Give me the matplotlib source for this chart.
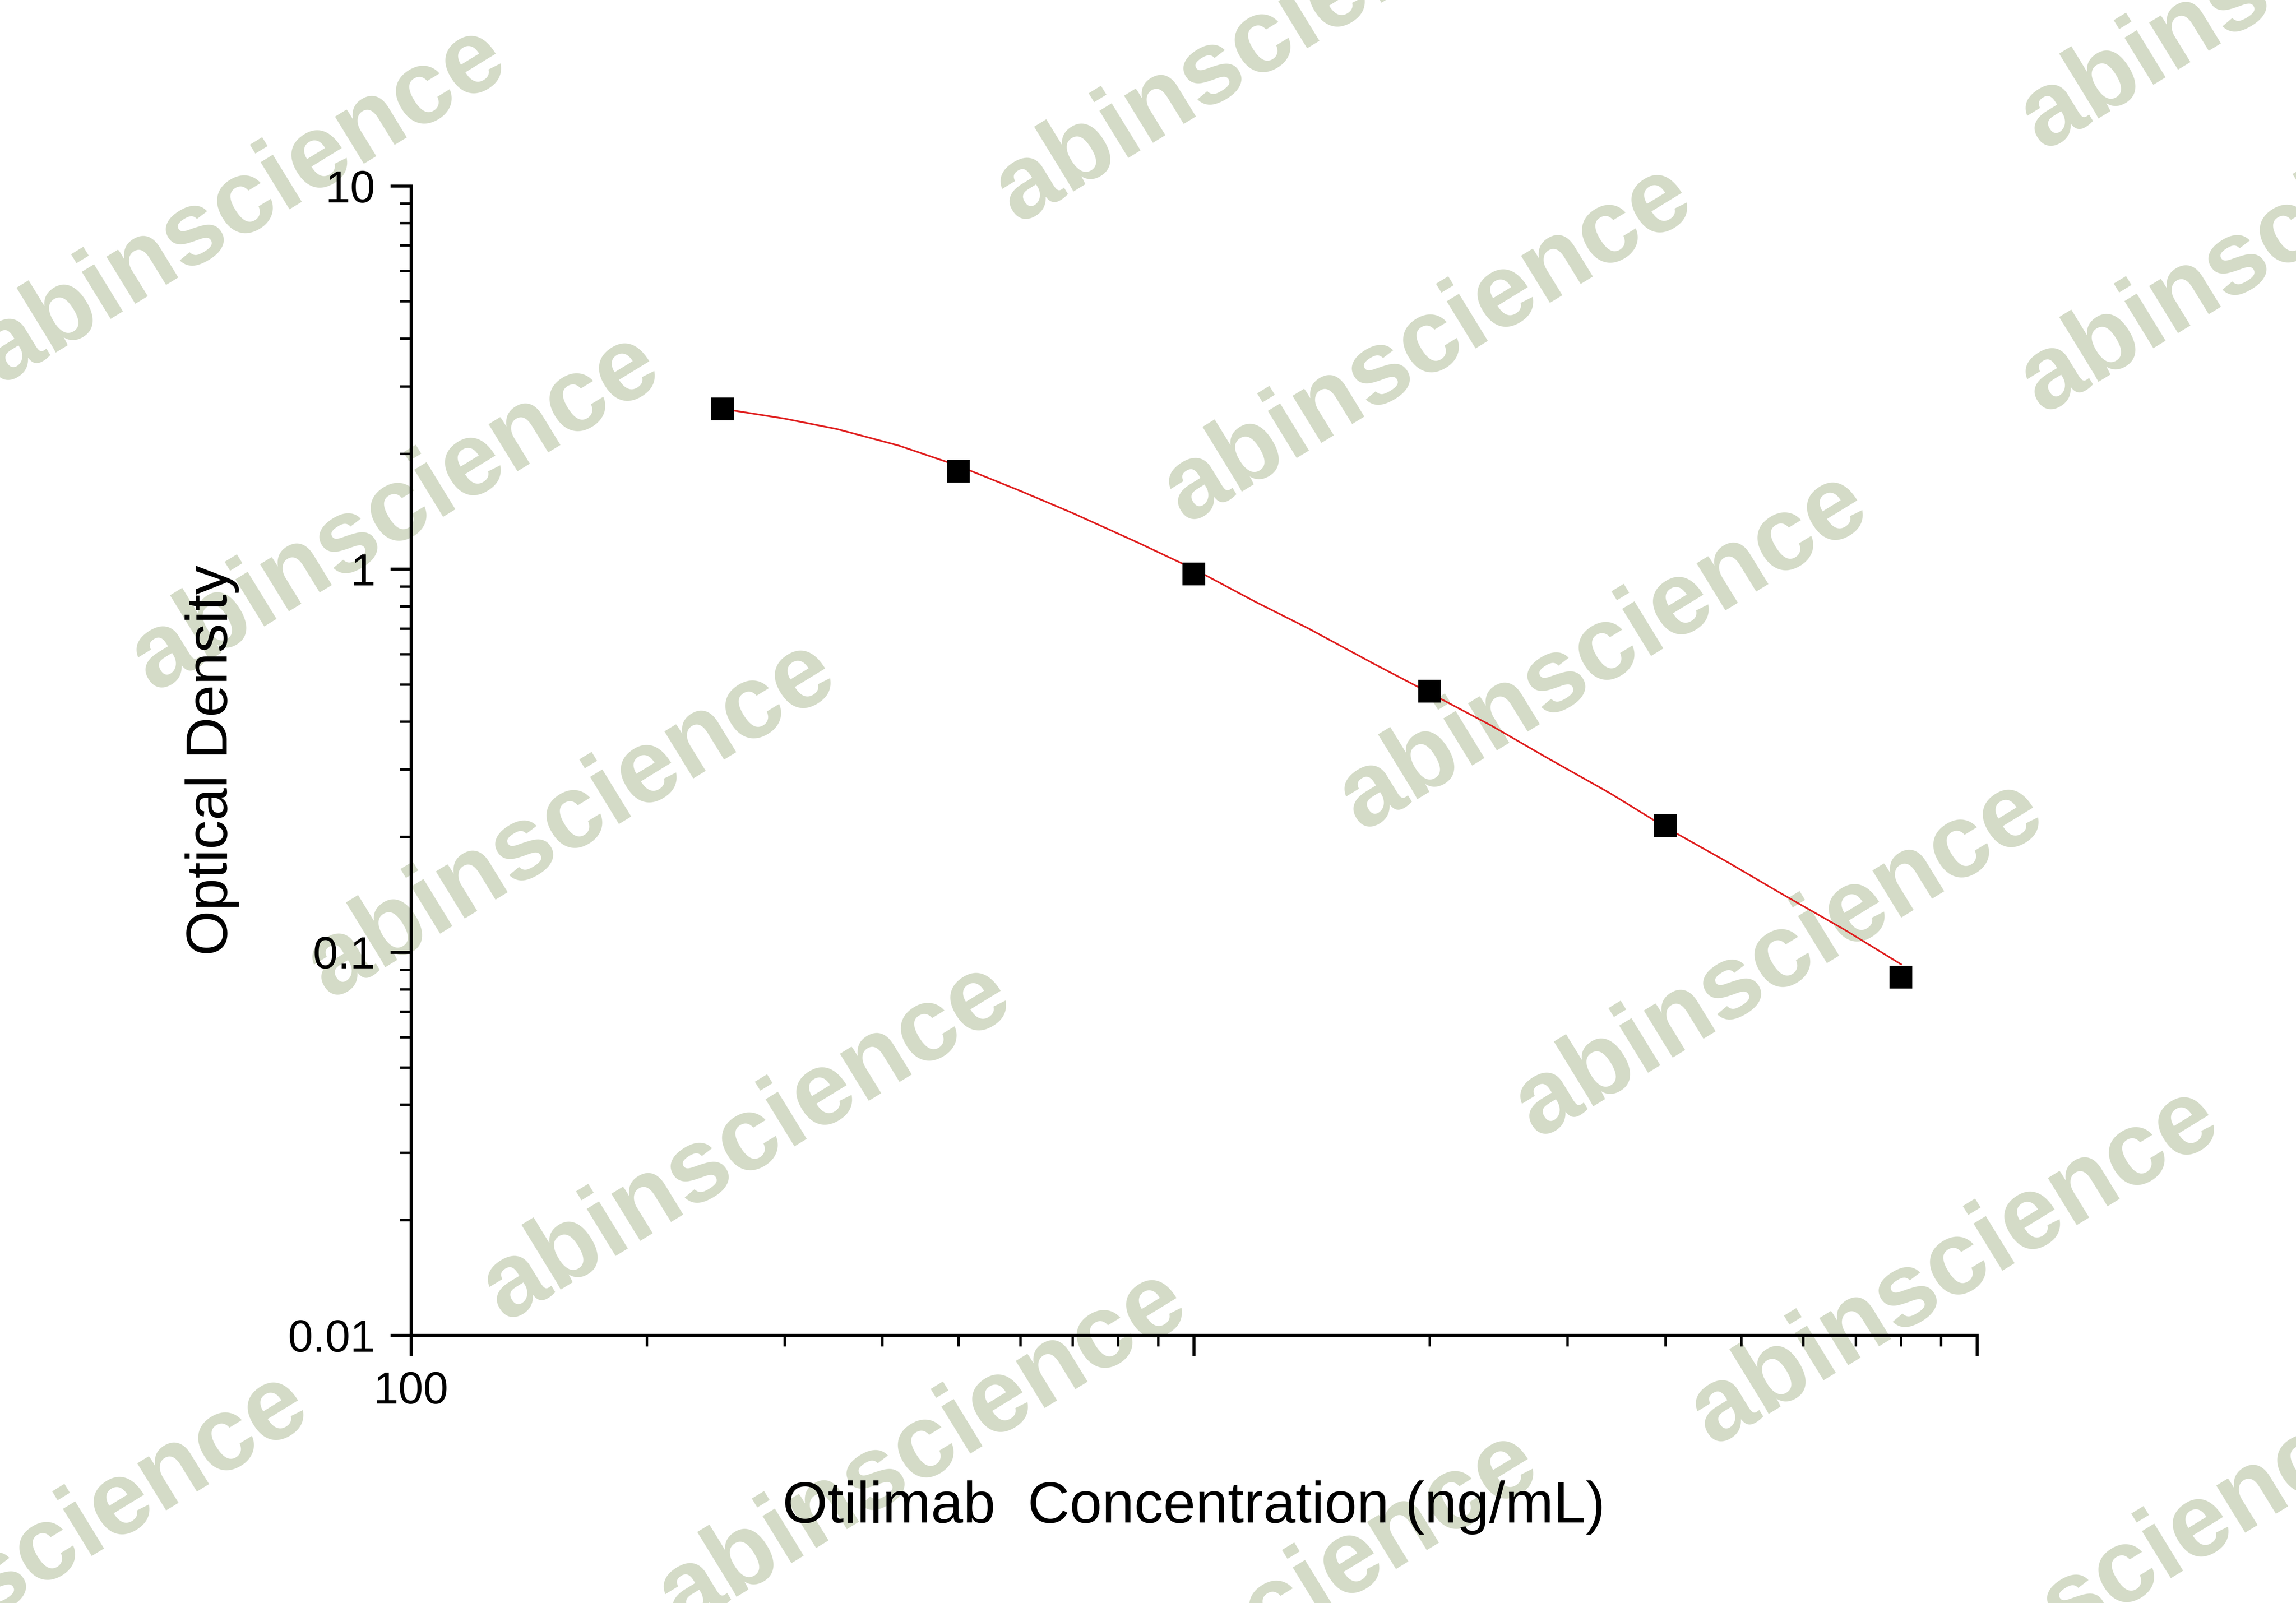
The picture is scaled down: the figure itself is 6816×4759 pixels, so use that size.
import matplotlib
matplotlib.use("Agg")
import matplotlib.pyplot as plt
from matplotlib.ticker import LogLocator, NullFormatter, FixedLocator, FixedFormatter

plt.rcParams['font.family'] = ['Liberation Sans', 'DejaVu Sans']

conc = [250, 500, 1000, 2000, 4000, 8000]
od = [2.62, 1.80, 0.97, 0.48, 0.214, 0.086]
curve_x = [250, 300, 350, 420, 500, 600, 700, 850, 1000, 1200, 1400, 1700, 2000, 2400, 2800, 3400, 4000, 4800, 5600, 6800, 8000]
curve_y = [2.62, 2.47, 2.32, 2.10, 1.86, 1.60, 1.40, 1.17, 1.00, 0.82, 0.70, 0.565, 0.475, 0.39, 0.325, 0.26, 0.212, 0.172, 0.143, 0.114, 0.093]

fig = plt.figure(figsize=(17.04, 11.8975), dpi=400)
ax = fig.add_axes([0.179, 0.167, 0.682, 0.717])
ax.set_zorder(2)
ax.patch.set_alpha(0)

ax.plot(curve_x, curve_y, color='#e02020', lw=0.9, zorder=2)
ax.plot(conc, od, 's', color='black', ms=11, zorder=3)
ax.set_xscale('log'); ax.set_yscale('log')
ax.set_xlim(100, 10000); ax.set_ylim(0.01, 10)
for s in ['top', 'right']:
    ax.spines[s].set_visible(False)
for s in ['left', 'bottom']:
    ax.spines[s].set_linewidth(1.6)
ax.xaxis.set_major_locator(FixedLocator([100, 1000, 10000]))
ax.xaxis.set_major_formatter(FixedFormatter(['100', '', '']))
ax.xaxis.set_minor_locator(LogLocator(base=10, subs=range(2, 10)))
ax.xaxis.set_minor_formatter(NullFormatter())
ax.yaxis.set_major_locator(FixedLocator([0.01, 0.1, 1, 10]))
ax.yaxis.set_major_formatter(FixedFormatter(['0.01', '0.1', '1', '10']))
ax.yaxis.set_minor_locator(LogLocator(base=10, subs=range(2, 10)))
ax.yaxis.set_minor_formatter(NullFormatter())
ax.tick_params(which='major', direction='out', length=11, width=1.6, labelsize=24, pad=8)
ax.tick_params(which='minor', direction='out', length=6, width=1.3)
ax.set_xlabel('Otilimab  Concentration (ng/mL)', fontsize=31, labelpad=36)
ax.set_ylabel('Optical Density', fontsize=31, labelpad=26)

W, H = 1568, 1095
centers = [(165, 140), (860, 30), (1560, 160), (270, 350), (975, 235), (390, 560),
           (1095, 445), (510, 780), (1215, 655), (630, 990), (1335, 865), (1450, 1075),
           (30, 1060), (1560, -20), (870, 1100)]
for cx, cy in centers:
    fig.text(cx / W, 1 - cy / H, 'abinscience', rotation=31.5, rotation_mode='anchor',
             ha='center', va='center', fontsize=56, fontweight='bold',
             color='#c9d2b9', alpha=0.8, zorder=0)

fig.savefig('out.png', dpi=400)
